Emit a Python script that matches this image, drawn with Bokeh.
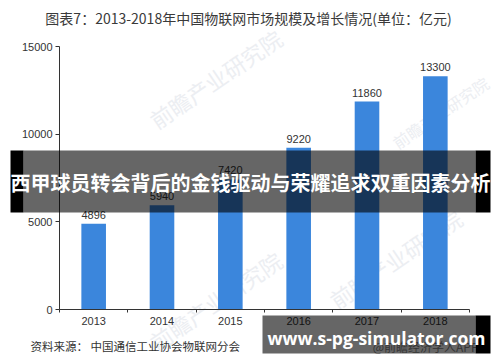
from bokeh.plotting import figure
from bokeh.models import Range1d, FixedTicker, Label, BoxAnnotation, ColumnDataSource
from bokeh.core.properties import value
from bokeh.embed import file_html
from bokeh.resources import INLINE

# ---- data ----
years = [2013, 2014, 2015, 2016, 2017, 2018]
market_size = [4896, 5940, 7420, 9220, 11860, 13300]
y_ticks = [0, 5000, 10000, 15000]
title_text = "图表7：2013-2018年中国物联网市场规模及增长情况(单位：亿元)"
source_text = "资料来源： 中国通信工业协会物联网分会"
banner_text = "西甲球员转会背后的金钱驱动与荣耀追求双重因素分析"
url_text = "www.s-pg-simulator.com"
app_text = "@前瞻经济学人APP"
watermark_text = "前瞻产业研究院"

CJK = "Noto Sans CJK SC"
LAT = "Liberation Sans"

# ---- layout: plot area in canvas pixels ----
W, H = 500, 362
AX_L, AX_R, AX_T, AX_B = 59, 469, 46, 309
x0, x1 = years[0] - 0.5, years[-1] + 0.5
y0, y1 = y_ticks[0], y_ticks[-1]
xs = (x1 - x0) / (AX_R - AX_L)
ys = (y1 - y0) / (AX_B - AX_T)
x_range = Range1d(x0 - AX_L * xs, x1 + (W - AX_R) * xs)
y_range = Range1d(y0 - (H - AX_B) * ys, y1 + AX_T * ys)

src = ColumnDataSource(dict(x=years, top=market_size,
                            label=[str(v) for v in market_size]))

p = figure(width=W, height=H, output_backend="svg", toolbar_location=None,
           x_range=x_range, y_range=y_range,
           min_border=0)
p.grid.visible = False
p.outline_line_color = None
p.background_fill_color = "white"
p.border_fill_color = "white"

# faint watermarks (beneath the bars)
for (wx, wy, fs) in [(215, 78, "22px"), (395, 258, "22px"), (215, 300, "22px"), (440, 112, "16px")]:
    p.add_layout(Label(x=wx, y=wy, x_units="canvas", y_units="canvas",
                       text=watermark_text, angle=0.6, text_align="center",
                       text_baseline="middle", text_font=CJK,
                       text_font_size=fs, text_color="#eceef2", level="underlay"))

p.vbar(x="x", top="top", bottom=0, width=0.36, source=src, color="#3b86dc", line_color=None)
p.text(x="x", y="top", text="label", source=src, text_align="center",
       text_baseline="bottom", y_offset=-5, text_font=value(LAT),
       text_font_size="11px", text_color="#333333")

# axes (drawn at fixed data locations inside the full-canvas frame)
xa = p.xaxis[0]
xa.fixed_location = y0
xa.bounds = (x0, x1)
xa.ticker = FixedTicker(ticks=years, minor_ticks=[y - 0.5 for y in years] + [x1])
xa.major_tick_line_color = None
xa.major_tick_out = 3
xa.major_tick_in = 0
xa.minor_tick_out = 3
xa.minor_tick_in = 0
xa.minor_tick_line_color = "#333333"
xa.axis_line_color = "#333333"
xa.major_label_standoff = 4
xa.major_label_text_font = LAT
xa.major_label_text_font_size = "11px"
xa.major_label_text_color = "#333333"

ya = p.yaxis[0]
ya.fixed_location = x0
ya.bounds = (y0, y1)
ya.ticker = FixedTicker(ticks=y_ticks)
ya.major_tick_out = 4
ya.major_tick_in = 0
ya.minor_tick_line_color = None
ya.axis_line_color = "#333333"
ya.major_tick_line_color = "#333333"
ya.major_label_standoff = 3
ya.major_label_text_font = LAT
ya.major_label_text_font_size = "11px"
ya.major_label_text_color = "#333333"

# title and source
p.add_layout(Label(x=248, y=17, x_units="canvas", y_units="canvas", text=title_text,
                   text_align="center", text_baseline="middle", text_font=CJK,
                   text_font_size="14px", text_color="#3a3a3a"))
p.add_layout(Label(x=30, y=345, x_units="canvas", y_units="canvas", text=source_text,
                   text_align="left", text_baseline="middle", text_font=CJK,
                   text_font_size="11.5px", text_color="#333333"))
p.add_layout(Label(x=478, y=346, x_units="canvas", y_units="canvas", text=app_text,
                   text_align="right", text_baseline="middle", text_font=CJK,
                   text_font_size="12px", text_color="#888888"))

def box(l, r, t, b, alpha):
    p.add_layout(BoxAnnotation(left=l, right=r, top=t, bottom=b,
                               left_units="canvas", right_units="canvas",
                               top_units="canvas", bottom_units="canvas",
                               fill_color="black", fill_alpha=alpha, line_color=None))

# banner overlay
box(10, 23, 150, 212, 1.0)
box(23, 475, 150, 212, 0.6)
box(475, 490, 150, 212, 1.0)
p.add_layout(Label(x=250, y=182, x_units="canvas", y_units="canvas", text=banner_text,
                   text_align="center", text_baseline="middle", text_font=CJK,
                   text_font_style="bold", text_font_size="20px", text_color="white"))

# bottom url box
box(262, 475, 315, 353, 0.6)
box(475, 490, 315, 353, 1.0)
p.add_layout(Label(x=376, y=337, x_units="canvas", y_units="canvas", text=url_text,
                   text_align="center", text_baseline="middle", text_font="Open Sans",
                   text_font_style="bold", text_font_size="17.5px", text_color="white"))

open("out.html", "w").write(file_html(p, INLINE))
